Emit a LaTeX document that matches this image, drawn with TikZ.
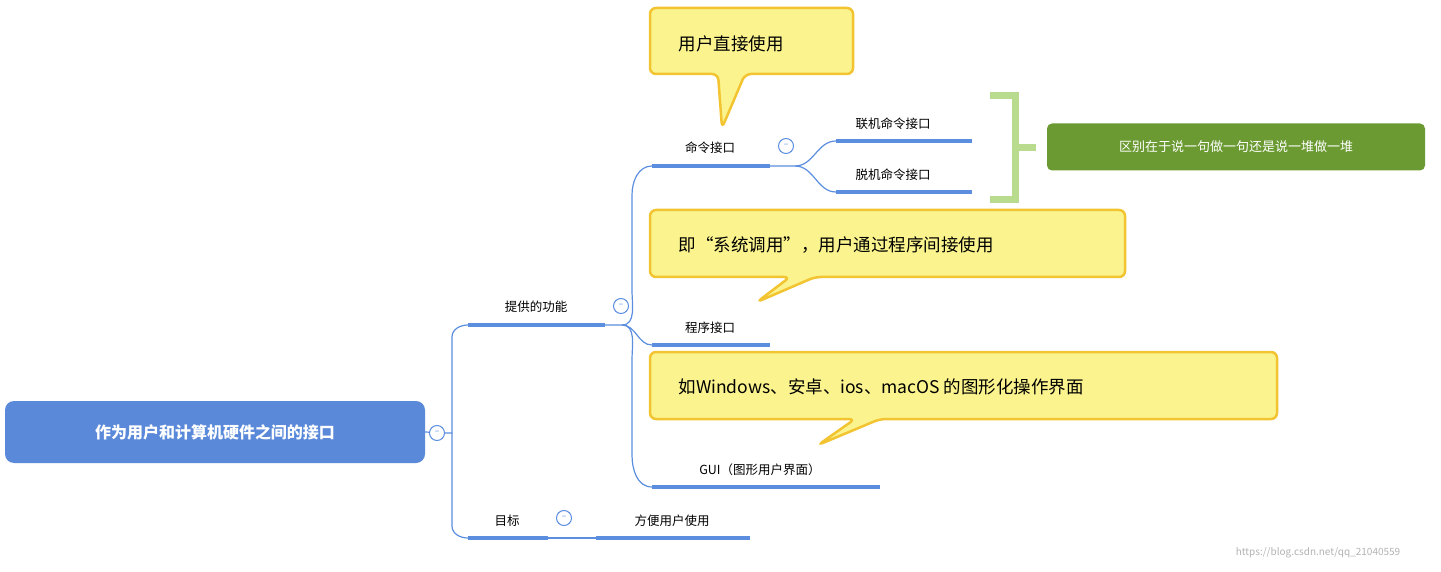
\documentclass[tikz,border=0pt]{standalone}
\usepackage{fontspec}
\setmainfont{Noto Sans CJK SC}
\begin{document}
\definecolor{lblue}{HTML}{5B8EDF}
\definecolor{rootblue}{HTML}{5A89DA}
\definecolor{yfill}{HTML}{FBF48E}
\definecolor{ydraw}{HTML}{F3C431}
\definecolor{gbox}{HTML}{6A9A31}
\definecolor{gbr}{HTML}{B8DB8E}
\begin{tikzpicture}[x=1pt,y=-1pt,
  ul/.style={draw=lblue,line width=3.5pt},
  conn/.style={draw=lblue,line width=1.2pt},
  col/.style={circle,draw=lblue,line width=1pt,fill=white,minimum size=15pt,inner sep=0pt,font=\fontsize{8}{8}\selectfont,text=lblue},
  lab/.style={font=\fontsize{12.5}{14}\selectfont,anchor=base},
  call/.style={draw=ydraw,fill=yfill,line width=2.5pt,rounded corners=6pt},
  ctext/.style={font=\fontsize{17.5}{20}\selectfont,anchor=west}]
\useasboundingbox (0,0) rectangle (1441,572);
% root
\node[fill=rootblue,rounded corners=9pt,minimum width=420pt,minimum height=62pt,text=white,font=\bfseries\fontsize{16}{18}\selectfont] (root) at (215,432) {作为用户和计算机硬件之间的接口};
% connectors level 1
\coordinate (r0) at (445,433);
\coordinate (f0) at (468,325); \coordinate (f1) at (605,325);
\coordinate (t0) at (468,538); \coordinate (t1) at (548,538);
\draw[conn] (root.east) -- (r0);
\draw[conn] (r0) -- (452,433) -- (452,337) to[out=90,in=180] (f0);
\draw[conn] (452,433) -- (452,526) to[out=-90,in=180] (t0);
\node[col] (c0) at (437,433) {−};
% 提供的功能
\draw[ul] (f0) -- (f1);
\node[lab] (fl) at (536,312) {提供的功能};
\coordinate (m0) at (652,166); \coordinate (m1) at (770,166);
\coordinate (p0) at (652,345); \coordinate (p1) at (770,345);
\coordinate (g0) at (652,487); \coordinate (g1) at (880,487);
\draw[conn] (f1) -- (622,325) to[out=0,in=-90] (632,290) -- (632,195) to[out=90,in=180] (m0);
\draw[conn] (622,325) to[out=0,in=180] (p0);
\draw[conn] (622,325) to[out=0,in=90] (632,360) -- (632,455) to[out=-90,in=180] (g0);
\node[col] (c1) at (621,306) {−};
\draw[ul] (m0) -- (m1); \node[lab] (ml) at (710,153) {命令接口};
\draw[ul] (p0) -- (p1); \node[lab] (pl) at (710,332) {程序接口};
\draw[ul] (g0) -- (g1); \node[lab] (gl) at (760,474) {GUI（图形用户界面）};
% 命令接口 children
\coordinate (a0) at (836,141); \coordinate (a1) at (972,141);
\coordinate (b0) at (836,192); \coordinate (b1) at (972,192);
\draw[conn] (m1) -- (795,166) to[out=0,in=180] (a0);
\draw[conn] (795,166) to[out=0,in=180] (b0);
\node[col] (c2) at (786,146) {−};
\draw[ul] (a0) -- (a1); \node[lab] (al) at (893,129) {联机命令接口};
\draw[ul] (b0) -- (b1); \node[lab] (bl) at (893,180) {脱机命令接口};
% green bracket
\draw[draw=gbr,line width=7pt] (990,96) -- (1015,96) -- (1015,200) -- (990,200);
\draw[draw=gbr,line width=7pt] (1015,148) -- (1036,148);
\node[fill=gbox,rounded corners=5pt,minimum width=378pt,minimum height=47pt,text=white,font=\fontsize{13}{15}\selectfont] (note) at (1236,147) {区别在于说一句做一句还是说一堆做一堆};
% 目标
\draw[ul] (t0) -- (t1); \node[lab] (tl) at (507,525) {目标};
\coordinate (u0) at (596,538); \coordinate (u1) at (750,538);
\draw[conn] (t1) -- (u0);
\node[col] (c3) at (564,518) {−};
\draw[ul] (u0) -- (u1); \node[lab] (ul) at (672,525) {方便用户使用};
% callouts
\draw[call] (650,8) -- (853,8) -- (853,74) -- (745,74) -- (722,128) -- (718,74) -- (650,74) -- cycle;
\node[ctext] (k1) at (675,44) {用户直接使用};
\draw[call] (650,210) -- (1125,210) -- (1125,277) -- (815,277) -- (757,302) -- (790,277) -- (650,277) -- cycle;
\node[ctext] (k2) at (675,245) {即“系统调用”，用户通过程序间接使用};
\draw[call] (650,352) -- (1277,352) -- (1277,419) -- (880,419) -- (818,445) -- (855,419) -- (650,419) -- cycle;
\node[ctext] (k3) at (675,387) {如Windows、安卓、ios、macOS 的图形化操作界面};
\node[text=gray!60,font=\fontsize{10}{12}\selectfont] (wm) at (1318,553) {https://blog.csdn.net/qq\_21040559};
\end{tikzpicture}
\end{document}
